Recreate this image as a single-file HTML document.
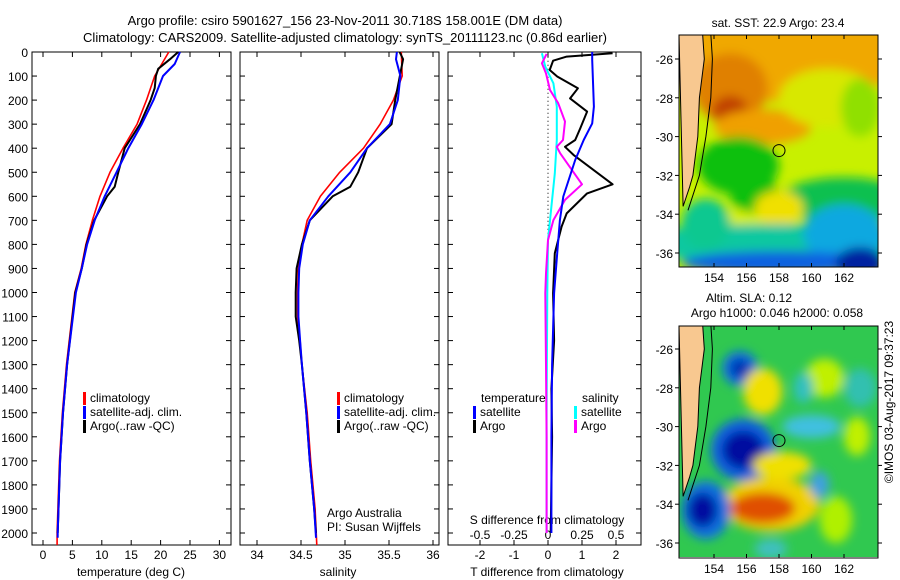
<!DOCTYPE html>
<html><head><meta charset="utf-8"><style>
body{margin:0;background:#fff;}
svg{display:block;font-family:"Liberation Sans",sans-serif;font-size:12px;}
</style></head><body>
<svg id="chart" width="900" height="580" viewBox="0 0 900 580" xmlns="http://www.w3.org/2000/svg">
<defs>
<filter id="blur1" x="-20%" y="-20%" width="140%" height="140%"><feGaussianBlur stdDeviation="5"/></filter>
<clipPath id="clipTop"><rect x="679" y="35" width="199" height="232"/></clipPath>
<clipPath id="clipBot"><rect x="679" y="326" width="199" height="231"/></clipPath>
</defs>
<text x="345" y="25" text-anchor="middle" font-size="13">Argo profile: csiro 5901627_156 23-Nov-2011 30.718S 158.001E (DM data)</text>
<text x="345" y="42" text-anchor="middle" font-size="13">Climatology: CARS2009. Satellite-adjusted climatology: synTS_20111123.nc (0.86d earlier)</text>
<g id="plots"></g>
<g id="maps"></g>
<text transform="translate(893,402) rotate(-90)" text-anchor="middle" font-size="12">©IMOS 03-Aug-2017 09:37:23</text>
</svg>
<script>
// ---------- data ----------
const depthTicks=[0,100,200,300,400,500,600,700,800,900,1000,1100,1200,1300,1400,1500,1600,1700,1800,1900,2000];
const tempTicks=[0,5,10,15,20,25,30];
const salTicks=[34,34.5,35,35.5,36];
const tdiffTicks=[-2,-1,0,1,2];
const sdiffTicks=[-0.5,-0.25,0,0.25,0.5];
const sdiffLabels=["-0.5","-0.25","0","0.25","0.5"];

const climTDepth=[0,100,200,300,400,500,600,700,800,900,1000,1300,1500,1700,2000,2050];
const climT=[21.4,19.0,17.6,16.0,13.6,11.4,9.7,8.4,7.3,6.5,5.4,4.0,3.3,2.8,2.4,2.4];
const satTDepth=[0,50,100,200,300,400,500,600,700,800,900,1000,1300,1500,1700,2000,2020];
const satT=[23.3,22.4,20.4,18.8,16.8,14.5,12.5,10.5,8.8,7.5,6.6,5.6,4.1,3.4,2.9,2.5,2.5];
const argoTDepth=[0,30,70,100,150,200,300,400,500,560,600,700,800,900,1000,1300,1500,1700,2000];
const argoT=[23.0,21.6,19.6,19.2,19.0,18.3,16.5,13.9,12.8,12.2,10.9,8.7,7.4,6.6,5.5,4.1,3.4,2.9,2.5];

const climSDepth=[0,100,200,300,400,500,600,700,800,900,1000,1100,1200,1300,1500,1700,1900,2050];
const climS=[35.64,35.65,35.55,35.40,35.21,34.94,34.72,34.57,34.51,34.47,34.46,34.46,34.49,34.51,34.57,34.61,34.66,34.68];
const satSDepth=[0,30,100,200,300,400,500,600,700,800,900,1000,1100,1200,1300,1500,1700,1900,2020];
const satS=[35.59,35.58,35.63,35.60,35.51,35.25,35.06,34.81,34.60,34.52,34.48,34.47,34.47,34.49,34.51,34.56,34.60,34.65,34.67];
const argoSDepth=[0,30,200,300,400,500,560,600,700,800,900,1000,1100,1200,1300,1500,1700,1900,2000];
const argoS=[35.62,35.66,35.57,35.53,35.25,35.15,35.06,34.86,34.60,34.51,34.45,34.44,34.44,34.48,34.51,34.56,34.60,34.65,34.67];

const satDTDepth=[0,33,227,297,366,449,601,699,837,1003,1300,1600,2000];
const satDT=[1.3,1.3,1.35,1.3,1.05,0.8,0.45,0.35,0.27,0.18,0.12,0.1,0.1];
const argoDTDepth=[5,19,36,75,102,151,193,248,317,366,394,428,550,588,671,726,837,1003,1200,1400,1600,1800,2000];
const argoDT=[1.9,0.55,0.15,0.05,0.27,0.88,0.65,1.15,0.95,0.8,0.5,0.75,1.9,1.15,0.55,0.4,0.2,0.15,0.18,0.1,0.12,0.1,0.08];
const satDSDepth=[5,61,130,227,366,505,643,782,1003,1500,2000];
const satDS=[-0.045,-0.02,0.04,0.065,0.065,0.05,0.025,0.0,-0.005,-0.01,-0.01];
const argoDSDepth=[8,47,89,158,213,289,366,394,421,550,615,699,782,920,1003,1300,1600,2000];
const argoDS=[-0.01,-0.045,-0.015,0.015,0.075,0.125,0.11,0.065,0.09,0.25,0.125,0.04,0.0,-0.015,-0.02,-0.015,-0.01,-0.01];

// ---------- helpers ----------
const NS="http://www.w3.org/2000/svg";
function mk(parent,tag,attrs){const e=document.createElementNS(NS,tag);for(const k in attrs)e.setAttribute(k,attrs[k]);parent.appendChild(e);return e;}
const yD=d=>52+d*0.2405;
const top0=52,bot0=545;
const panels=[
 {x0:32,x1:231,name:"temperature-panel"},
 {x0:240,x1:439,name:"salinity-panel"},
 {x0:448,x1:641,name:"difference-panel"}];
const xT=t=>43+t*5.88;
const xS=s=>257+(s-34)*88;
const xDT=v=>548+v*34;
const xDS=v=>548+v*136;
const G=document.getElementById('plots');

panels.forEach((p,i)=>{
 const r=mk(G,'rect',{x:p.x0,y:top0,width:p.x1-p.x0,height:bot0-top0,fill:'none',stroke:'#000','stroke-width':1});
 
 
 depthTicks.forEach(d=>{
  mk(G,'line',{x1:p.x0,x2:p.x0+5,y1:yD(d),y2:yD(d),stroke:'#000'});
  mk(G,'line',{x1:p.x1-5,x2:p.x1,y1:yD(d),y2:yD(d),stroke:'#000'});
 });
});
depthTicks.forEach(d=>{
 const t=mk(G,'text',{x:28,y:yD(d)+5,'text-anchor':'end'});t.textContent=d;
 
 
});
function xticks(vals,labels,fx,y,tickTop,tickBot){
 vals.forEach((v,i)=>{
  const x=fx(v);
  if(tickTop){mk(G,'line',{x1:x,x2:x,y1:top0,y2:top0+5,stroke:'#000'});}
  if(tickBot){mk(G,'line',{x1:x,x2:x,y1:bot0-5,y2:bot0,stroke:'#000'});}
  const t=mk(G,'text',{x:x,y:y,'text-anchor':'middle'});t.textContent=labels?labels[i]:v;
  
  
 });
}
xticks(tempTicks,null,xT,559,true,true);
xticks(salTicks,null,xS,559,true,true);
xticks(tdiffTicks,null,xDT,559,true,true);
xticks(sdiffTicks,sdiffLabels,xDS,539,false,false);
function label(x,y,txt,name,anchor){const t=mk(G,'text',{x:x,y:y,'text-anchor':anchor||'start'});t.textContent=txt;
 
 return t;}
label(131,576,'temperature (deg C)','x-axis-title-temperature','middle');
label(338,576,'salinity','x-axis-title-salinity','middle');
label(547,576,'T difference from climatology','x-axis-title-t-difference','middle');
label(547,524,'S difference from climatology','s-difference-axis-title','middle');
label(327,517,'Argo Australia','credit-argo-australia');
label(327,531,'PI: Susan Wijffels','credit-pi');

const dz=mk(G,'line',{x1:xDT(0),x2:xDT(0),y1:yD(20),y2:yD(760),stroke:'#000','stroke-dasharray':'1,3'});



function series(xs,ds,fx,color,w,name){
 let d='';xs.forEach((v,i)=>{d+=(i?'L':'M')+fx(v).toFixed(1)+','+yD(ds[i]).toFixed(1);});
 const p=mk(G,'path',{d:d,fill:'none',stroke:color,'stroke-width':w,'stroke-linejoin':'round'});
 
 
}
series(climT,climTDepth,xT,'#f00',1.6,'temperature-climatology-line');
series(argoT,argoTDepth,xT,'#000',2,'temperature-argo-line');
series(satT,satTDepth,xT,'#00f',2,'temperature-satellite-line');
series(climS,climSDepth,xS,'#f00',1.6,'salinity-climatology-line');
series(argoS,argoSDepth,xS,'#000',2,'salinity-argo-line');
series(satS,satSDepth,xS,'#00f',2,'salinity-satellite-line');
series(satDS,satDSDepth,xDS,'#0ff',2,'s-diff-satellite-line');
series(argoDS,argoDSDepth,xDS,'#f0f',2,'s-diff-argo-line');
series(argoDT,argoDTDepth,xDT,'#000',2,'t-diff-argo-line');
series(satDT,satDTDepth,xDT,'#00f',2,'t-diff-satellite-line');

function legend(x,y,color,txt,name){
 const r=mk(G,'rect',{x:x,y:y-10,width:3,height:13,fill:color});
 
 
 label(x+7,y,txt,name);
}
[[83,'#f00','climatology'],[83,'#00f','satellite-adj. clim.'],[83,'#000','Argo(..raw -QC)']].forEach((a,i)=>legend(a[0],402+i*14,a[1],a[2],'legend-entry'));
[[337,'#f00','climatology'],[337,'#00f','satellite-adj. clim.'],[337,'#000','Argo(..raw -QC)']].forEach((a,i)=>legend(a[0],402+i*14,a[1],a[2],'legend-entry'));
label(481,402,'temperature','legend-header-temperature');
label(582,402,'salinity','legend-header-salinity');
legend(473,416,'#00f','satellite','legend-entry');
legend(473,430,'#000','Argo','legend-entry');
legend(574,416,'#0ff','satellite','legend-entry');
legend(574,430,'#f0f','Argo','legend-entry');

// ---------- maps ----------
const M=document.getElementById('maps');
const lonTicks=[154,156,158,160,162];
const latTicks=[-26,-28,-30,-32,-34,-36];
const lx=l=>714+(l-154)*16.25;
function mapFrame(y0,latY,clip,blobs,base,name){
 const g=mk(M,'g',{'clip-path':'url(#'+clip+')'});
 
 
 mk(g,'rect',{x:679,y:y0,width:199,height:232,fill:base});
 const bg=mk(g,'g',{filter:'url(#blur1)'});
 blobs.forEach(b=>mk(bg,'ellipse',{cx:lx(b[0]),cy:latY(b[1]),rx:b[2]*16.25,ry:b[3]*19.4,fill:b[4]}));
 const coast=[[152.1,-24.7],[153.3,-24.7],[153.4,-26],[153.1,-28],[153.0,-30],[152.7,-32],[152.5,-32.6],[152.1,-33.6]];
 let d='M679,'+y0;coast.forEach(c=>d+='L'+lx(c[0]).toFixed(1)+','+latY(c[1]).toFixed(1));d+='Z';
 const land=mk(g,'path',{d:d,fill:'#f8c890',stroke:'#000','stroke-width':1});
 
 
 const shelf=[[153.8,-24.7],[153.9,-26],[153.8,-28],[153.5,-30],[153.1,-32],[152.4,-33.8]];
 let s='';shelf.forEach((c,i)=>s+=(i?'L':'M')+lx(c[0]).toFixed(1)+','+latY(c[1]).toFixed(1));
 mk(g,'path',{d:s,fill:'none',stroke:'#000','stroke-width':1});
 const c=mk(M,'circle',{cx:lx(158.0),cy:latY(-30.72),r:6,fill:'none',stroke:'#000'});
 
 
 mk(M,'rect',{x:679,y:y0,width:199,height:232,fill:'none',stroke:'#000'});
 lonTicks.forEach(l=>{mk(M,'line',{x1:lx(l),x2:lx(l),y1:y0,y2:y0+4,stroke:'#000'});mk(M,'line',{x1:lx(l),x2:lx(l),y1:y0+228,y2:y0+232,stroke:'#000'});
  const t=mk(M,'text',{x:lx(l),y:y0+247,'text-anchor':'middle'});t.textContent=l;
  
  });
 latTicks.forEach(la=>{mk(M,'line',{x1:675,x2:679,y1:latY(la),y2:latY(la),stroke:'#000'});mk(M,'line',{x1:878,x2:882,y1:latY(la),y2:latY(la),stroke:'#000'});
  const t=mk(M,'text',{x:673,y:latY(la)+5,'text-anchor':'end'});t.textContent=la;
  
  });
}
const topLat=la=>59+(-26-la)*19.4;
const botLat=la=>349+(-26-la)*19.4;
mapFrame(35,topLat,'clipTop',[
 [158,-25.8,8,2.4,'#f0a800'],[155,-27.5,2.3,1.8,'#e08000'],[155,-28.7,1.1,0.8,'#c04000'],[157,-29.5,3,0.9,'#f0a000'],
 [161,-28,3,1.5,'#d8e800'],[163,-28.5,1.2,1.5,'#90e000'],
 [155.5,-31.5,2.5,1.5,'#10c010'],[162,-33.3,4,1.2,'#10c050'],[156.5,-33,1.5,1,'#10c010'],
 [158,-33.7,1.5,0.9,'#f0e000'],[155.5,-34.6,1.5,0.8,'#d8f000'],
 [158,-35.5,10,1,'#10c8a0'],[162,-35,2.5,1.5,'#10a8e0'],[158,-36.5,6,0.6,'#1060e0'],[163,-36.5,1.5,0.8,'#0020a0'],[153.5,-34.5,1.5,1.3,'#10c890']
],'#c8f000','sst-map');
mapFrame(326,botLat,'clipBot',[
 [155.6,-27,1.1,0.9,'#1070e0'],[155.6,-27,0.6,0.5,'#0030b0'],[157,-28.2,1.2,1.2,'#f0e000'],[160.8,-27.5,1.2,1,'#c0f000'],[159.5,-28,0.6,0.8,'#30c0c0'],[163,-28,1,1,'#30c0b0'],
 [155.8,-31.2,2.0,1.6,'#1060e0'],[155.8,-31.2,1.3,1.0,'#0010a0'],[160,-30,1.8,0.6,'#40c0e0'],
 [157.5,-34,3,1.4,'#f0d000'],[157,-34.2,2,0.8,'#e05000'],[158.2,-32,1.8,0.7,'#f0e000'],
 [153.5,-34.3,1.5,1.5,'#1070e0'],[153.3,-34.3,0.9,0.9,'#0010a0'],[160.5,-33,0.6,0.7,'#40a0e0'],
 [162.8,-30.5,0.8,1,'#c0f000'],[161.5,-34.8,1,1.2,'#b0f000'],[157.5,-36.3,1,0.5,'#40c0c0']
],'#30c850','sla-map');
function mtitle(x,y,t,n){const e=mk(M,'text',{x:x,y:y,'text-anchor':'middle'});e.textContent=t;
 
 }
mtitle(778,27,'sat. SST: 22.9 Argo: 23.4','sst-map-title');
mtitle(749,302,'Altim. SLA: 0.12','sla-map-title');
mtitle(777,317,'Argo h1000: 0.046 h2000: 0.058','sla-map-subtitle');
</script>
</body></html>
